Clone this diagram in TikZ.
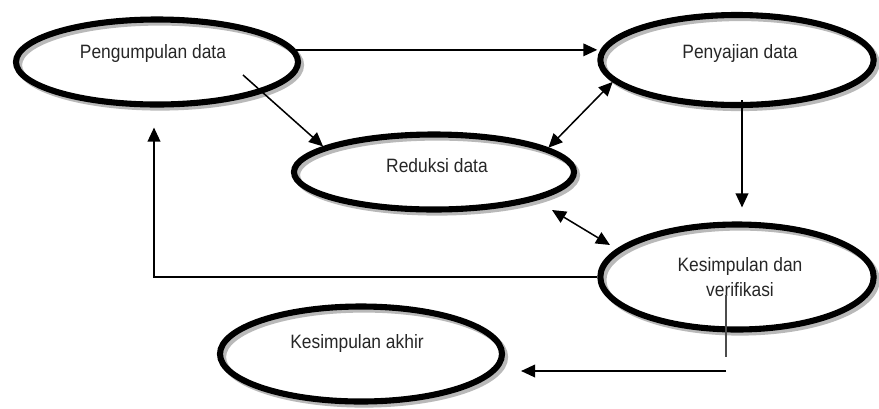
\documentclass[tikz,border=0pt]{standalone}
\usepackage{fontspec}
\setmainfont{Liberation Sans}[FakeStretch=0.9]
\usetikzlibrary{shapes.geometric,arrows.meta,shadows}

\begin{document}
\begin{tikzpicture}[x=0.03cm, y=-0.03cm,
	oval/.style={shape=ellipse, draw, line width=5.2pt, inner sep=0pt,
		general shadow={draw=gray!55, line width=5.2pt, shadow xshift=2.6pt, shadow yshift=-2.6pt}},
	conn/.style={line width=1.3pt, -{Triangle[length=0.42cm,width=0.38cm]}},
	bothway/.style={line width=1.3pt, {Triangle[length=0.42cm,width=0.38cm]}-{Triangle[length=0.42cm,width=0.38cm]}},
	every label/.style={font=\fontsize{16.5}{21}\selectfont, text=black!85, align=center}]
	\useasboundingbox (0,0) rectangle (879,408);
	
	\node[oval, minimum width=8.46cm, minimum height=2.55cm,
		label={[xshift=-0.12cm, yshift=0.27cm]center:Pengumpulan data}] (pengumpulan) at (157,62) {};
	\node[oval, minimum width=8.2cm, minimum height=2.7cm,
		label={[xshift=0.09cm, yshift=0.21cm]center:Penyajian data}] (penyajian) at (737,60) {};
	\node[oval, minimum width=8.4cm, minimum height=2.25cm,
		label={[xshift=0.09cm, yshift=0.18cm]center:Reduksi data}] (reduksi) at (434,172) {};
	\node[oval, minimum width=8.2cm, minimum height=3.15cm,
		label={[xshift=0.09cm]center:{Kesimpulan dan\\verifikasi}}] (verifikasi) at (737,277) {};
	\node[oval, minimum width=8.46cm, minimum height=2.85cm,
		label={[xshift=-0.12cm, yshift=0.33cm]center:Kesimpulan akhir}] (akhir) at (361,354) {};
	
	% alur antar tahap
	\draw[conn] (pengumpulan.5) -- (pengumpulan.5 -| penyajian.west);
	\draw[conn] ([shift={(86,13)}]pengumpulan.center) -- (reduksi.167);
	\draw[bothway] (penyajian.190) -- (reduksi.12);
	\draw[conn] ([shift={(5,-8)}]penyajian.south) -- ([shift={(5,-14)}]verifikasi.north);
	\draw[bothway] ([shift={(118,38)}]reduksi.center) -- ([shift={(-127,-32)}]verifikasi.center);
	\draw[conn] (verifikasi.west) -| ([shift={(-3,20)}]pengumpulan.south);
	
	%ke kesimpulan akhir
	\draw[line width=0.9pt, gray!60!black] ([shift={(-11,18)}]verifikasi.center) -- ++(0,62);
	\draw[conn] ([shift={(-11,94)}]verifikasi.center) -- ([shift={(16,17)}]akhir.east);
	
\end{tikzpicture}
\end{document}
